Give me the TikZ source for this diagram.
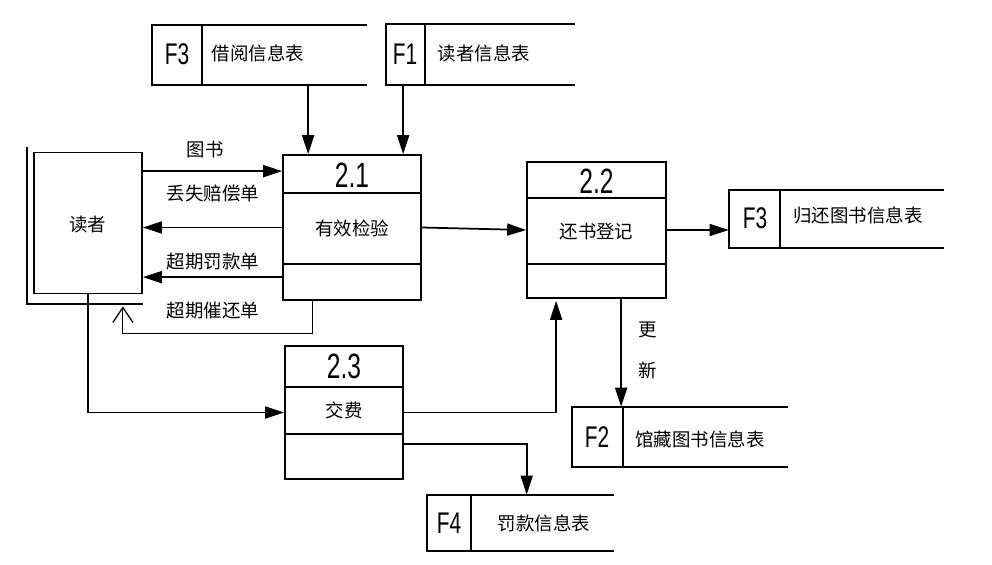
\documentclass[tikz,border=0pt]{standalone}
\usepackage{fontspec}
\setmainfont{Noto Sans CJK SC}
\newfontfamily\numfont[FakeStretch=0.7]{Liberation Sans}
\usetikzlibrary{calc,arrows.meta}

\tikzset{
  line/.style={line width=1pt},
  flow/.style={line, -{Triangle[length=0.38cm,width=0.24cm]}},
  back/.style={line width=0.7pt, -{Straight Barb[length=0.3cm,width=0.4cm]}},
  proc/.style={draw, line, inner sep=0pt},
  store/.style={inner sep=0pt},
  txt/.style={font=\fontsize{10.5}{12}\selectfont, inner sep=1pt},
  pid/.style={font=\numfont\fontsize{20}{22}\selectfont, inner sep=0pt},
  sid/.style={font=\numfont\fontsize{17}{19}\selectfont, inner sep=0pt}
}

\begin{document}
\begin{tikzpicture}[x=0.02cm,y=-0.02cm]
\useasboundingbox (0,0) rectangle (992,565);

% external entity
\node[proc, minimum width=2.16cm, minimum height=2.82cm] (reader) at (88,223) {};
\node[txt] (reader_name) at (88,225) {读者};
\draw[line] ($(reader.north west)+(-6,-5)$) -- ($(reader.south west)+(-6,10)$) -- ($(reader.south east)+(0,10)$);

% processes
\node[proc, minimum width=2.76cm, minimum height=2.9cm] (p21) at (352,227.5) {};
\draw[line] ($(p21.north west)+(0,39)$) -- ($(p21.north east)+(0,39)$);
\draw[line] ($(p21.north west)+(0,110)$) -- ($(p21.north east)+(0,110)$);
\node[pid] (p21_id) at (352,175) {2.1};
\node[txt] (p21_name) at (352,228) {有效检验};

\node[proc, minimum width=2.78cm, minimum height=2.72cm] (p22) at (596.5,230) {};
\draw[line] ($(p22.north west)+(0,37)$) -- ($(p22.north east)+(0,37)$);
\draw[line] ($(p22.north west)+(0,103)$) -- ($(p22.north east)+(0,103)$);
\node[pid] (p22_id) at (596.5,181) {2.2};
\node[txt] (p22_name) at (596.5,232) {还书登记};

\node[proc, minimum width=2.36cm, minimum height=2.66cm] (p23) at (344,412.5) {};
\draw[line] ($(p23.north west)+(0,42)$) -- ($(p23.north east)+(0,42)$);
\draw[line] ($(p23.north west)+(0,89)$) -- ($(p23.north east)+(0,89)$);
\node[pid] (p23_id) at (344,366) {2.3};
\node[txt] (p23_name) at (344,410) {交费};

% data stores, open on the right
\node[store, minimum width=4.3cm, minimum height=1.2cm] (f3b) at (259.5,55) {};
\draw[line] (f3b.north east) -- (f3b.north west) -- (f3b.south west) -- (f3b.south east);
\draw[line] ($(f3b.north west)+(50,0)$) -- ($(f3b.south west)+(50,0)$);
\node[sid] (f3b_id) at (177,54) {F3};
\node[txt] (f3b_name) at (258,53) {借阅信息表};

\node[store, minimum width=3.78cm, minimum height=1.22cm] (f1) at (480.5,54.5) {};
\draw[line] (f1.north east) -- (f1.north west) -- (f1.south west) -- (f1.south east);
\draw[line] ($(f1.north west)+(39,0)$) -- ($(f1.south west)+(39,0)$);
\node[sid] (f1_id) at (405,54) {F1};
\node[txt] (f1_name) at (484,53) {读者信息表};

\node[store, minimum width=4.3cm, minimum height=1.16cm] (f3r) at (836.5,219) {};
\draw[line] (f3r.north east) -- (f3r.north west) -- (f3r.south west) -- (f3r.south east);
\draw[line] ($(f3r.north west)+(51,0)$) -- ($(f3r.south west)+(51,0)$);
\node[sid] (f3r_id) at (755,218) {F3};
\node[txt] (f3r_name) at (858,215) {归还图书信息表};

\node[store, minimum width=4.32cm, minimum height=1.2cm] (f2) at (680,437) {};
\draw[line] (f2.north east) -- (f2.north west) -- (f2.south west) -- (f2.south east);
\draw[line] ($(f2.north west)+(51,0)$) -- ($(f2.south west)+(51,0)$);
\node[sid] (f2_id) at (597,437) {F2};
\node[txt] (f2_name) at (700,439) {馆藏图书信息表};

\node[store, minimum width=3.74cm, minimum height=1.12cm] (f4) at (520.5,523) {};
\draw[line] (f4.north east) -- (f4.north west) -- (f4.south west) -- (f4.south east);
\draw[line] ($(f4.north west)+(44,0)$) -- ($(f4.south west)+(44,0)$);
\node[sid] (f4_id) at (449,523) {F4};
\node[txt] (f4_name) at (544,523) {罚款信息表};

% ports on the boxes
\coordinate (p21_in1) at ($(p21.north west)+(26,0)$);
\coordinate (p21_in2) at ($(p21.north west)+(121,0)$);
\coordinate (p21_book) at ($(p21.north west)+(0,17)$);
\coordinate (p21_fine) at ($(p21.north west)+(0,123)$);
\coordinate (p21_out) at ($(p21.south west)+(30,0)$);
\coordinate (reader_back) at ($(reader.south east)+(-20,12)$);
\coordinate (p22_upd) at ($(p22.south west)+(95,0)$);
\coordinate (p22_pay) at ($(p22.south west)+(30,0)$);
\coordinate (p23_fine) at ($(p23.north west)+(118,99)$);
\coordinate (f4_in) at ($(f4.north west)+(100,0)$);

% flows
\draw[flow] (f3b.south -| p21_in1) -- (p21_in1);
\draw[flow] (f1.south -| p21_in2) -- (p21_in2);
\draw[flow] (reader.east |- p21_book) -- (p21_book);
\draw[flow] (p21.west) -- (p21.west -| reader.east);
\draw[flow] (p21_fine) -- (p21_fine -| reader.east);
\draw[back] (p21_out) -- ++(0,33) -| (reader_back);
\draw[flow] (p21.east) -- (p22.west);
\draw[flow] (p22.east) -- (p22.east -| f3r.west);
\draw[flow] (p22_upd) -- (p22_upd |- f2.north);
\draw[flow] (reader.south) |- (p23.west);
\draw[flow] (p23.east) -| ($(p22_pay)+(0,2)$);
\draw[flow] (p23_fine) -| (f4_in);

% flow labels
\node[txt] (l_book) at (205,150) {图书};
\node[txt] (l_lost) at (213,193) {丢失赔偿单};
\node[txt] (l_fine) at (213,262) {超期罚款单};
\node[txt] (l_remind) at (213,311) {超期催还单};
\node[txt] (l_upd1) at (648,330) {更};
\node[txt] (l_upd2) at (648,370) {新};
\end{tikzpicture}
\end{document}
